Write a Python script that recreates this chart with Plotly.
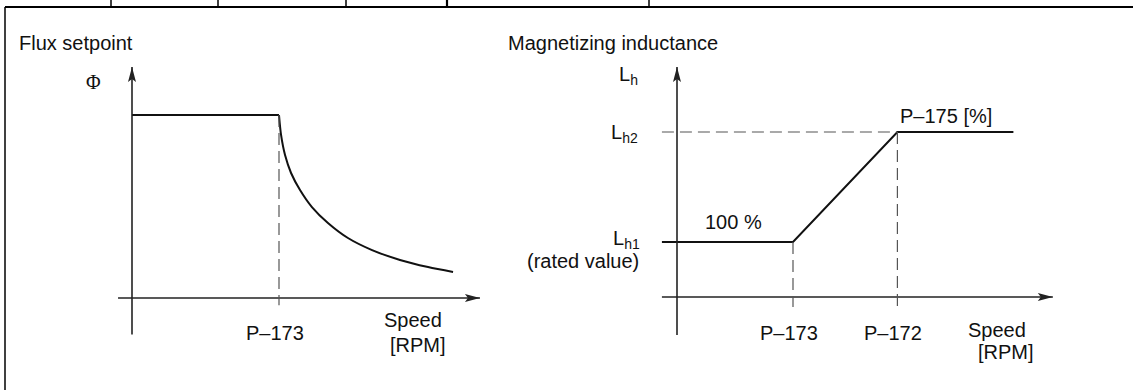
import plotly.graph_objects as go

# ---- Flux setpoint (speed normalised to P-173 = 1, flux normalised to rated = 1)
flux_const_speed = [0.0, 1.0]
flux_const_value = [1.0, 1.0]
flux_weak_speed = [1.0, 1.014, 1.041, 1.082, 1.143, 1.224, 1.333, 1.469, 1.633, 1.823, 2.014, 2.184]
flux_weak_value = [1.0, 0.891, 0.781, 0.683, 0.590, 0.497, 0.410, 0.328, 0.262, 0.208, 0.169, 0.142]
flux_ticks = [1.0]
flux_tick_labels = ["P\u2013173"]

# ---- Magnetizing inductance (speed normalised to P-173 = 1, L_h in % of rated)
lh_speed = [-0.13, 1.0, 1.9, 2.9]
lh_percent = [100, 100, 300, 300]
lh_ticks = [1.0, 1.9]
lh_tick_labels = ["P\u2013173", "P\u2013172"]
lh1_percent = 100
lh2_percent = 300

W, H = 1133, 390
# pixel placement of each panel's origin and its scale (px per unit)
L_ORIG = (132, 298); L_SX, L_SY = 147.0, 183.0
R_ORIG = (677, 297); R_SX, R_SY = 116.0, 0.55


def xrange_for(ox, sx):
    return [-ox / sx, (W - ox) / sx]


def yrange_for(oy, sy):
    return [(oy - H) / sy, oy / sy]


INK = "#111111"
AX = "#222222"
DASH = "#555555"
FONT = "Liberation Sans, Arial, Helvetica, sans-serif"

fig = go.Figure()

fig.add_trace(go.Scatter(x=flux_const_speed, y=flux_const_value, mode="lines",
                         line=dict(color=INK, width=2), xaxis="x", yaxis="y",
                         hoverinfo="skip"))
fig.add_trace(go.Scatter(x=flux_weak_speed, y=flux_weak_value, mode="lines",
                         line=dict(color=INK, width=2, shape="spline", smoothing=0.8),
                         xaxis="x", yaxis="y", hoverinfo="skip"))
fig.add_trace(go.Scatter(x=lh_speed, y=lh_percent, mode="lines",
                         line=dict(color=INK, width=2), xaxis="x2", yaxis="y2",
                         hoverinfo="skip"))

shapes = []


def axis_with_arrow(xref, yref, x0, y0, x1, y1, vertical):
    shapes.append(dict(type="line", xref=xref, yref=yref, x0=x0, y0=y0, x1=x1, y1=y1,
                       line=dict(color=AX, width=1.6), layer="above"))
    if vertical:
        path = "M0,0 L-4,-15 L0,-12 L4,-15 Z"
    else:
        path = "M0,0 L-15,4 L-12,0 L-15,-4 Z"
    shapes.append(dict(type="path", xref=xref, yref=yref, xsizemode="pixel",
                       ysizemode="pixel", xanchor=x1, yanchor=y1, path=path,
                       fillcolor=AX, line=dict(width=0), layer="above"))


def dashed(xref, yref, x0, y0, x1, y1):
    shapes.append(dict(type="line", xref=xref, yref=yref, x0=x0, y0=y0, x1=x1, y1=y1,
                       line=dict(color=DASH, width=1.2, dash="12px,6px")))


# left panel axes
axis_with_arrow("x", "y", 0, -0.20, 0, 1.262, True)
axis_with_arrow("x", "y", -0.095, 0, 2.367, 0, False)
dashed("x", "y", flux_ticks[0], flux_const_value[-1], flux_ticks[0], -0.04)

# right panel axes
axis_with_arrow("x2", "y2", 0, -69, 0, 418, True)
axis_with_arrow("x2", "y2", lh_speed[0], 0, 3.24, 0, False)
dashed("x2", "y2", lh_speed[0], lh2_percent, lh_ticks[1], lh2_percent)
dashed("x2", "y2", lh_ticks[0], lh1_percent, lh_ticks[0], -18)
dashed("x2", "y2", lh_ticks[1], lh2_percent, lh_ticks[1], -24)

# page frame: top rule, left rule and the header cell separators
top = 1 - 7 / H
shapes.append(dict(type="line", xref="paper", yref="paper", x0=5 / W, x1=1, y0=top, y1=top,
                   line=dict(color="#000", width=2)))
shapes.append(dict(type="line", xref="paper", yref="paper", x0=5 / W, x1=5 / W, y0=0, y1=top,
                   line=dict(color="#000", width=1.5)))
for sx, lw in [(111, 1.5), (218, 1.5), (346, 1.5), (447, 2.2), (649, 1.5)]:
    shapes.append(dict(type="line", xref="paper", yref="paper", x0=sx / W, x1=sx / W,
                       y0=top, y1=1, line=dict(color="#000", width=lw)))

annotations = []


def label(text, x, y, xref="x", yref="y", xanchor="center", xshift=0, yshift=0,
          family=FONT, size=20):
    annotations.append(dict(text=text, x=x, y=y, xref=xref, yref=yref, xanchor=xanchor,
                            yanchor="middle", xshift=xshift, yshift=yshift,
                            showarrow=False, font=dict(family=family, size=size, color=INK)))


label("Flux setpoint", 17 / W, 1 - 43 / H, "paper", "paper", "left")
label("Magnetizing inductance", 506 / W, 1 - 43 / H, "paper", "paper", "left")

# left panel labels
label("\u03a6", 0, 1.18, xshift=-39, family="Liberation Serif, Times New Roman, serif")
for t, s in zip(flux_ticks, flux_tick_labels):
    label(s, t, 0, xshift=-4, yshift=-35)
label("Speed", 1.91, 0, yshift=-22)
label("[RPM]", 1.946, 0, yshift=-47)

# right panel labels
label("L<sub>h</sub>", 0, 0, "x2", "y2", "right", xshift=-37, yshift=222)
label("L<sub>h2</sub>", 0, lh2_percent, "x2", "y2", "right", xshift=-37, yshift=-1)
label("L<sub>h1</sub>", 0, lh1_percent, "x2", "y2", "right", xshift=-35, yshift=3)
label("(rated value)", 0, lh1_percent, "x2", "y2", "right", xshift=-36, yshift=-19)
label("100 %", 0.49, lh1_percent, "x2", "y2", yshift=20)
label("P\u2013175 [%]", lh_ticks[1], lh2_percent, "x2", "y2", "left", xshift=1, yshift=16)
for t, s in zip(lh_ticks, lh_tick_labels):
    label(s, t, 0, "x2", "y2", xshift=-4, yshift=-36)
label("Speed", 2.76, 0, "x2", "y2", yshift=-33)
label("[RPM]", 2.84, 0, "x2", "y2", yshift=-55)

hidden = dict(visible=False, showgrid=False, zeroline=False, fixedrange=True)
fig.update_layout(
    width=W, height=H, margin=dict(l=0, r=0, t=0, b=0),
    paper_bgcolor="white", plot_bgcolor="white", showlegend=False,
    xaxis=dict(hidden, range=xrange_for(L_ORIG[0], L_SX), domain=[0, 1]),
    yaxis=dict(hidden, range=yrange_for(L_ORIG[1], L_SY), domain=[0, 1]),
    xaxis2=dict(hidden, range=xrange_for(R_ORIG[0], R_SX), overlaying="x"),
    yaxis2=dict(hidden, range=yrange_for(R_ORIG[1], R_SY), overlaying="y"),
    shapes=shapes, annotations=annotations,
)

fig.write_html(
    "out.html",
    config={"displayModeBar": False, "staticPlot": True},
    post_script="document.documentElement.style.overflow='hidden';"
                "document.body.style.margin='0';document.body.style.overflow='hidden';",
)
